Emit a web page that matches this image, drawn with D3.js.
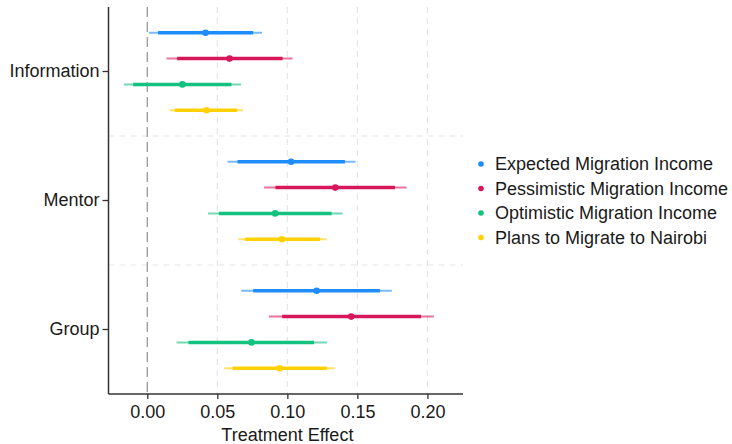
<!DOCTYPE html>
<html>
<head>
<meta charset="utf-8">
<script src="https://cdn.jsdelivr.net/npm/d3@7"></script>
<style>
  html, body { margin: 0; padding: 0; background: #fff; }
  svg { display: block; font-family: "Liberation Sans", Arial, Helvetica, sans-serif; }
</style>
</head>
<body>
<svg id="chart" width="732" height="444"></svg>
<script>
// Treatment arms (top to bottom) and outcome series
const groups = ["Information", "Mentor", "Group"];
const series = ["Expected Migration Income", "Pessimistic Migration Income",
                "Optimistic Migration Income", "Plans to Migrate to Nairobi"];
const colors = ["#1E8CFA", "#D8175A", "#12C27E", "#FFD100"];

// Point estimates, per group, in series order
const estimate = [
  [0.0416, 0.0587, 0.0251, 0.0423],
  [0.1027, 0.1342, 0.0913, 0.0961],
  [0.1209, 0.1456, 0.0744, 0.0944]
];
// Wide (95%) interval bounds
const ci95Low = [
  [0.0011, 0.0137, -0.0168, 0.0158],
  [0.0573, 0.0834, 0.0434, 0.0649],
  [0.0670, 0.0868, 0.0209, 0.0546]
];
const ci95High = [
  [0.0819, 0.1037, 0.0670, 0.0684],
  [0.1487, 0.1851, 0.1394, 0.1280],
  [0.1746, 0.2046, 0.1282, 0.1341]
];
// Narrow (90%) interval bounds
const ci90Low = [
  [0.0077, 0.0213, -0.0101, 0.0196],
  [0.0644, 0.0915, 0.0511, 0.0699],
  [0.0756, 0.0963, 0.0294, 0.0609]
];
const ci90High = [
  [0.0756, 0.0966, 0.0601, 0.0641],
  [0.1411, 0.1768, 0.1316, 0.1232],
  [0.1661, 0.1954, 0.1191, 0.1280]
];
const xTicks = [0, 0.05, 0.10, 0.15, 0.20];

const rows = [];
groups.forEach((g, gi) => series.forEach((s, si) => rows.push({
  group: g, series: s, color: colors[si],
  est: estimate[gi][si],
  lo95: ci95Low[gi][si], hi95: ci95High[gi][si],
  lo90: ci90Low[gi][si], hi90: ci90High[gi][si]
})));

const svg = d3.select("#chart");
const plot = { left: 108.5, right: 463, top: 7, bottom: 394 };
const fontSize = "18px";

const x = d3.scaleLinear().domain([-0.0277, 0.2254]).range([plot.left, plot.right]);
const yGroup = d3.scaleBand().domain(groups).range([plot.top, plot.bottom]);
const ySeries = d3.scaleBand().domain(series).range([0, yGroup.bandwidth()])
  .paddingInner(0).paddingOuter(0.5);
const yRow = d => yGroup(d.group) + ySeries(d.series) + ySeries.bandwidth() / 2;

const grid = svg.append("g");
// Vertical reference grid
grid.selectAll("line.vgrid").data(xTicks.filter(t => t !== 0)).join("line")
  .attr("x1", d => x(d)).attr("x2", d => x(d))
  .attr("y1", plot.top).attr("y2", plot.bottom)
  .attr("stroke", "#e6e6e6").attr("stroke-width", 1.2)
  .attr("stroke-dasharray", "6,5");
// Separators between treatment arms
grid.selectAll("line.hgrid").data(groups.slice(1)).join("line")
  .attr("x1", plot.left).attr("x2", plot.right)
  .attr("y1", d => yGroup(d)).attr("y2", d => yGroup(d))
  .attr("stroke", "#e6e6e6").attr("stroke-width", 1.2)
  .attr("stroke-dasharray", "6,5");
// Zero-effect line
grid.append("line")
  .attr("x1", x(0)).attr("x2", x(0))
  .attr("y1", plot.top).attr("y2", plot.bottom)
  .attr("stroke", "#999").attr("stroke-width", 1.3)
  .attr("stroke-dasharray", "10,5");

// Intervals and estimates
const marks = svg.append("g");
marks.selectAll("line.ci95").data(rows).join("line")
  .attr("x1", d => x(d.lo95)).attr("x2", d => x(d.hi95))
  .attr("y1", yRow).attr("y2", yRow)
  .attr("stroke", d => d.color).attr("stroke-opacity", 0.6).attr("stroke-width", 2);
marks.selectAll("line.ci90").data(rows).join("line")
  .attr("x1", d => x(d.lo90)).attr("x2", d => x(d.hi90))
  .attr("y1", yRow).attr("y2", yRow)
  .attr("stroke", d => d.color).attr("stroke-width", 3.5);
marks.selectAll("circle").data(rows).join("circle")
  .attr("cx", d => x(d.est)).attr("cy", yRow).attr("r", 3.3)
  .attr("fill", d => d.color);

// Axes
const xAxis = svg.append("g").attr("transform", `translate(0,${plot.bottom})`)
  .call(d3.axisBottom(x).tickValues(xTicks).tickFormat(d3.format(".2f")).tickSize(5).tickPadding(6));
const yAxis = svg.append("g").attr("transform", `translate(${plot.left},0)`)
  .call(d3.axisLeft(yGroup).tickSize(6).tickPadding(3));
[xAxis, yAxis].forEach(a => {
  a.select(".domain").attr("stroke", "#333").attr("stroke-width", 1.5);
  a.selectAll(".tick line").attr("stroke", "#333").attr("stroke-width", 1.3);
  a.selectAll(".tick text").attr("fill", "#1a1a1a").style("font-size", fontSize);
});
xAxis.select(".domain").attr("d", `M${plot.left},0H${plot.right}`);
yAxis.select(".domain").attr("d", `M0,${plot.top}V${plot.bottom}`);

svg.append("text")
  .attr("x", x(0.1)).attr("y", 441)
  .attr("text-anchor", "middle").attr("fill", "#1a1a1a")
  .style("font-size", fontSize).text("Treatment Effect");

// Legend
const legend = svg.append("g").attr("transform", "translate(481,164)");
const li = legend.selectAll("g").data(series).join("g")
  .attr("transform", (d, i) => `translate(0,${i * 24.5})`);
li.append("circle").attr("r", 2.8).attr("fill", (d, i) => colors[i]);
li.append("text").attr("x", 14).attr("dy", "0.35em")
  .attr("fill", "#1a1a1a").style("font-size", fontSize).text(d => d);
</script>
</body>
</html>
